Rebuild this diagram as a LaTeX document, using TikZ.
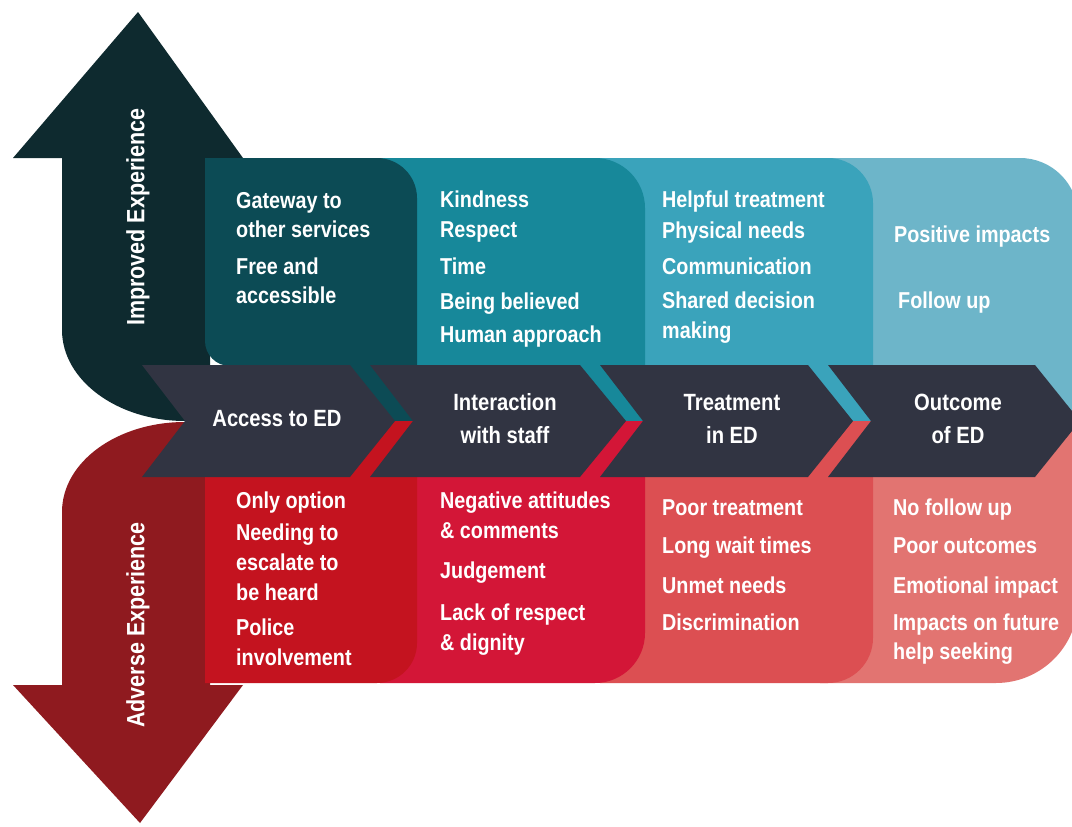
\documentclass[tikz,border=0pt]{standalone}
\usepackage{fontspec}
\newfontfamily\cond{Liberation Sans}[FakeStretch=0.86]
\definecolor{arrUp}{HTML}{0E2A2F}
\definecolor{arrDn}{HTML}{8F1A1F}
\definecolor{pA}{HTML}{0C4B55}
\definecolor{pB}{HTML}{17889A}
\definecolor{pC}{HTML}{3AA3BB}
\definecolor{pD}{HTML}{6DB5C9}
\definecolor{rA}{HTML}{C4131F}
\definecolor{rB}{HTML}{D31637}
\definecolor{rC}{HTML}{DC4F52}
\definecolor{rD}{HTML}{E27471}
\definecolor{chev}{HTML}{313442}
\tikzset{
  txt/.style={anchor=base west, inner sep=0pt, text=white, font=\cond\bfseries\fontsize{23}{28}\selectfont},
  lab/.style={anchor=base, inner sep=0pt, text=white, font=\cond\bfseries\fontsize{23.5}{28}\selectfont},
  side/.style={rotate=90, inner sep=0pt, text=white, font=\cond\bfseries\fontsize{25}{30}\selectfont},
  chevron/.style={fill=chev}
}
\begin{document}
\begin{tikzpicture}[x=1pt,y=-1pt]
\useasboundingbox (0,0) rectangle (1072,827);
\clip (0,0) rectangle (1072,827);
\fill[white] (0,0) rectangle (1072,827);
% up arrow
\fill[arrUp] (138,12) -- (243,158) -- (210,158) -- (210,421) -- (185,421)
  .. controls (117,421) and (62,380) .. (62,330) -- (62,158) -- (13,158) -- cycle;
% down arrow
\fill[arrDn] (185,422) -- (210,422) -- (210,685) -- (243,685) -- (140,823) -- (13,685) -- (62,685) -- (62,512)
  .. controls (62,462) and (117,422) .. (185,422) -- cycle;
% top panels
\fill[pD] (820,158) -- (1020,158) .. controls (1052,158) and (1078,184) .. (1078,216) -- (1078,421) -- (820,421) -- cycle;
\fill[pC] (600,158) -- (828,158) .. controls (852.8,158) and (873,178.2) .. (873,203) -- (873,421) -- (600,421) -- cycle;
\fill[pB] (380,158) -- (595,158) .. controls (622.6,158) and (645,180.4) .. (645,208) -- (645,421) -- (380,421) -- cycle;
\fill[pA] (205,158) -- (377,158) .. controls (399,158) and (417,176) .. (417,198) -- (417,421) -- (240,421) -- (240,366) -- (230,366)
  .. controls (216.2,366) and (205,354.8) .. (205,341) -- cycle;
% bottom panels
\fill[rD] (820,421) -- (1078,421) -- (1078,601) .. controls (1078,646.3) and (1041.3,683) .. (996,683) -- (820,683) -- cycle;
\fill[rC] (600,421) -- (873,421) -- (873,638) .. controls (873,662.8) and (852.8,683) .. (828,683) -- (600,683) -- cycle;
\fill[rB] (380,421) -- (645,421) -- (645,633) .. controls (645,660.6) and (622.6,683) .. (595,683) -- (380,683) -- cycle;
\fill[rA] (205,421) -- (417,421) -- (417,643) .. controls (417,665) and (399,683) .. (377,683) -- (205,683) -- cycle;
% chevrons
\fill[chevron] (142,365) -- (350,365) -- (395,421) -- (350,477) -- (142,477) -- (185,421) -- cycle;
\fill[chevron] (370,365) -- (580,365) -- (626,421) -- (580,477) -- (370,477) -- (413,421) -- cycle;
\fill[chevron] (600,365) -- (808,365) -- (853,421) -- (808,477) -- (600,477) -- (643,421) -- cycle;
\fill[chevron] (828,365) -- (1035,365) -- (1080,421) -- (1035,477) -- (828,477) -- (871,421) -- cycle;
% side labels
\node[side] (up) at (138,217) {Improved Experience};
\node[side] (dn) at (138,625) {Adverse Experience};
% chevron labels
\node[lab] (c1) at (277,426) {Access to ED};
\node[lab] (c2a) at (505,410) {Interaction};
\node[lab] (c2b) at (505,443) {with staff};
\node[lab] (c3a) at (732,410) {Treatment};
\node[lab] (c3b) at (732,443) {in ED};
\node[lab] (c4a) at (958,410) {Outcome};
\node[lab] (c4b) at (958,443) {of ED};
% top panel text
\node[txt] (a1) at (236,208) {Gateway to};
\node[txt] (a2) at (236,237) {other services};
\node[txt] (a3) at (236,274) {Free and};
\node[txt] (a4) at (236,303) {accessible};
\node[txt] (b1) at (440,207) {Kindness};
\node[txt] (b2) at (440,237) {Respect};
\node[txt] (b3) at (440,274) {Time};
\node[txt] (b4) at (440,309) {Being believed};
\node[txt] (b5) at (440,342) {Human approach};
\node[txt] (d1) at (662,207) {Helpful treatment};
\node[txt] (d2) at (662,238) {Physical needs};
\node[txt] (d3) at (662,274) {Communication};
\node[txt] (d4) at (662,308) {Shared decision};
\node[txt] (d5) at (662,338) {making};
\node[txt] (e1) at (894,242) {Positive impacts};
\node[txt] (e2) at (898,308) {Follow up};
% bottom panel text
\node[txt] (f1) at (236,508) {Only option};
\node[txt] (f2) at (236,540) {Needing to};
\node[txt] (f3) at (236,570) {escalate to};
\node[txt] (f4) at (236,600) {be heard};
\node[txt] (f5) at (236,635) {Police};
\node[txt] (f6) at (236,665) {involvement};
\node[txt] (g1) at (440,508) {Negative attitudes};
\node[txt] (g2) at (440,538) {\& comments};
\node[txt] (g3) at (440,578) {Judgement};
\node[txt] (g4) at (440,620) {Lack of respect};
\node[txt] (g5) at (440,650) {\& dignity};
\node[txt] (h1) at (662,515) {Poor treatment};
\node[txt] (h2) at (662,553) {Long wait times};
\node[txt] (h3) at (662,593) {Unmet needs};
\node[txt] (h4) at (662,630) {Discrimination};
\node[txt] (k1) at (893,515) {No follow up};
\node[txt] (k2) at (893,553) {Poor outcomes};
\node[txt] (k3) at (893,593) {Emotional impact};
\node[txt] (k4) at (893,630) {Impacts on future};
\node[txt] (k5) at (893,659) {help seeking};
\end{tikzpicture}
\end{document}
